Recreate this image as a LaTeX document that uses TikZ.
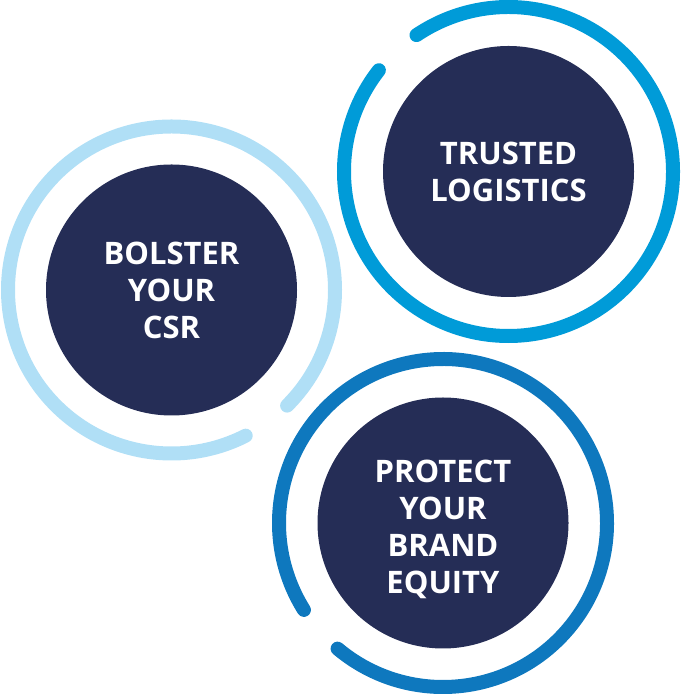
\documentclass[tikz,border=0pt]{standalone}
\usepackage{fontspec}
\usepackage{tikz}
\usetikzlibrary{positioning,calc}
\setmainfont{Open Sans}
\usepackage{xcolor}
\definecolor{navy}{HTML}{252D56}
\definecolor{skyring}{HTML}{009BD8}
\definecolor{paleRing}{HTML}{B0DFF6}
\definecolor{deepRing}{HTML}{0E78BE}

\begin{document}
\begin{tikzpicture}[x=1pt, y=1pt,
  core/.style={circle, fill=navy, minimum size=251pt, inner sep=0pt, text=white,
    align=center, font=\bfseries\fontsize{31}{37}\selectfont},
  ring/.style={line width=14pt, line cap=round}]
  \useasboundingbox (0,0) rectangle (680,695);
  \node[core] (trusted) at (508.5,523.5) {TRUSTED\\LOGISTICS};
  \node[core] (bolster) at (171.5,405) {BOLSTER\\YOUR\\CSR};
  \node[core] (protect) at (443,172) {};
  \node[text=white, align=center, font=\bfseries\fontsize{31}{37}\selectfont]
    (protectlabel) at ($(protect.center)+(0,-6)$) {PROTECT\\YOUR\\BRAND\\EQUITY};
  % open rings around the cores
  \draw[ring, skyring] (trusted.center) ++(142:164.5) arc[start angle=142, end angle=484, radius=164.5];
  \draw[ring, paleRing] (bolster.center) ++(-45:163.5) arc[start angle=-45, end angle=297, radius=163.5];
  \draw[ring, deepRing] (protect.center) ++(230:164) arc[start angle=230, end angle=572, radius=164];
\end{tikzpicture}
\end{document}
